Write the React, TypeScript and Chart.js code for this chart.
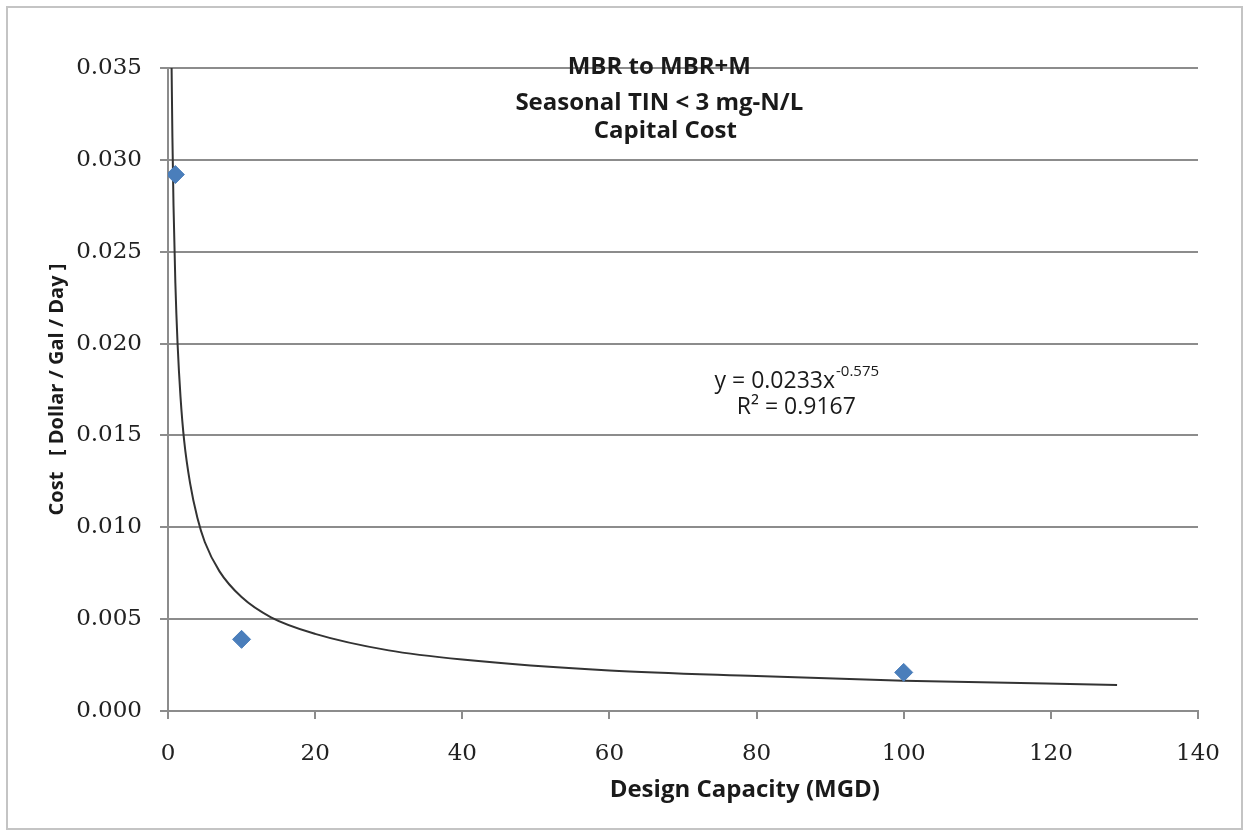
import React, { useEffect, useRef } from "react";
import { Chart, registerables } from "chart.js";

Chart.register(...registerables);

// Measured points: design capacity (MGD) vs cost (Dollar / Gal / Day)
const capacity = [1, 10, 100];
const cost = [0.0292, 0.0039, 0.0021];

// Power trendline (x, y)
const trendX = [0.49, 0.6, 0.75, 1, 1.3, 1.7, 2.2, 3, 4, 5, 7, 10, 14, 20, 30, 40, 60, 80, 100, 129];
const trendY = [0.035, 0.0312, 0.0275, 0.0233, 0.0200, 0.0171, 0.0147, 0.0124, 0.0105, 0.0092, 0.0076, 0.0062, 0.0051, 0.0042, 0.0033, 0.0028, 0.0022, 0.0019, 0.00165, 0.00142];

const xTicksMax = 140;
const xStep = 20;
const yTicksMax = 0.035;
const yStep = 0.005;

const titleLines = ["MBR to MBR+M", "Seasonal TIN < 3 mg-N/L", "Capital Cost"];
const xTitle = "Design Capacity (MGD)";
const yTitle = "Cost   [ Dollar / Gal / Day ]";
const eqMain = "y = 0.0233x";
const eqExp = "-0.575";
const rSquared = "R² = 0.9167";

const SANS = "'Open Sans', Lato, sans-serif";
const SERIF = "'DejaVu Serif', serif";

const textPlugin = {
  id: "textPlugin",
  beforeDraw(chart: any) {
    const ctx = chart.ctx;
    ctx.save();
    ctx.fillStyle = "#ffffff";
    ctx.fillRect(0, 0, chart.width, chart.height);
    ctx.strokeStyle = "#c4c4c4";
    ctx.lineWidth = 2;
    ctx.strokeRect(7, 7, chart.width - 14, chart.height - 12);
    ctx.restore();
  },
  afterDraw(chart: any) {
    const ctx = chart.ctx;
    const a = chart.chartArea;
    const w = a.right - a.left;
    const h = a.bottom - a.top;
    ctx.save();
    ctx.fillStyle = "#1a1a1a";
    ctx.textAlign = "center";
    ctx.textBaseline = "middle";
    // chart title overlaid on plot
    ctx.font = `bold 24px ${SANS}`;
    const tx = a.left + w * 0.477;
    ctx.fillText(titleLines[0], tx, a.top - 1);
    ctx.fillText(titleLines[1], tx, a.top + 35);
    ctx.fillText(titleLines[2], tx + 6, a.top + 63);
    // x title
    ctx.fillText(xTitle, a.left + w * 0.560, a.bottom + 79);
    // y title
    ctx.font = `bold 20px ${SANS}`;
    ctx.save();
    ctx.translate(57, a.top + h / 2);
    ctx.rotate(-Math.PI / 2);
    ctx.fillText(yTitle, 0, 0);
    ctx.restore();
    // equation
    ctx.font = `23px ${SANS}`;
    ctx.textAlign = "left";
    const mainW = ctx.measureText(eqMain).width;
    ctx.font = `15px ${SANS}`;
    const expW = ctx.measureText(eqExp).width;
    const cx = a.left + w * 0.61;
    const ex = cx - (mainW + expW) / 2;
    const ey = a.top + h * 0.487;
    ctx.font = `23px ${SANS}`;
    ctx.fillText(eqMain, ex, ey);
    ctx.font = `15px ${SANS}`;
    ctx.fillText(eqExp, ex + mainW + 1, ey - 9);
    ctx.font = `23px ${SANS}`;
    ctx.textAlign = "center";
    ctx.fillText(rSquared, cx, ey + 26);
    ctx.restore();
  },
};

export default function App() {
  const ref = useRef<HTMLCanvasElement>(null);
  useEffect(() => {
    if (!ref.current) return;
    const chart = new Chart(ref.current, {
      type: "scatter",
      data: {
        datasets: [
          {
            label: "Cost",
            data: capacity.map((x, i) => ({ x, y: cost[i] })),
            pointStyle: "rectRot",
            pointRadius: 9,
            backgroundColor: "#4A7EBB",
            borderColor: "#4A7EBB",
            order: 0,
          },
          {
            type: "line",
            label: "Power trend",
            data: trendX.map((x, i) => ({ x, y: trendY[i] })),
            borderColor: "#333333",
            borderWidth: 2,
            pointRadius: 0,
            cubicInterpolationMode: "monotone",
            fill: false,
            order: 1,
          } as any,
        ],
      },
      options: {
        animation: false,
        responsive: true,
        maintainAspectRatio: false,
        events: [],
        layout: { padding: { top: 68, right: 51, left: 0, bottom: 0 } },
        plugins: { legend: { display: false }, tooltip: { enabled: false } },
        scales: {
          x: {
            type: "linear",
            min: 0,
            max: xTicksMax,
            ticks: {
              stepSize: xStep,
              font: { family: SERIF, size: 23 },
              color: "#222",
              padding: 21,
            },
            grid: { drawOnChartArea: false, drawTicks: true, tickLength: 8, color: "#8c8c8c", lineWidth: 2 },
            border: { color: "#8c8c8c", width: 2 },
            afterFit(scale: any) {
              scale.height = 123;
              scale.paddingLeft = 0;
              scale.paddingRight = 0;
            },
          },
          y: {
            min: 0,
            max: yTicksMax,
            ticks: {
              stepSize: yStep,
              font: { family: SERIF, size: 23 },
              color: "#222",
              padding: 18,
              callback: (v: any) => Number(v).toFixed(3),
            },
            grid: { color: "#8c8c8c", lineWidth: 2, tickLength: 8 },
            border: { color: "#8c8c8c", width: 2 },
            afterFit(scale: any) {
              scale.width = 168;
              scale.paddingTop = 0;
              scale.paddingBottom = 0;
            },
          },
        },
      },
      plugins: [textPlugin],
    });
    return () => chart.destroy();
  }, []);
  return (
    <div style={{ position: "absolute", left: 0, top: 0, width: 1249, height: 834 }}>
      <canvas ref={ref} />
    </div>
  );
}
